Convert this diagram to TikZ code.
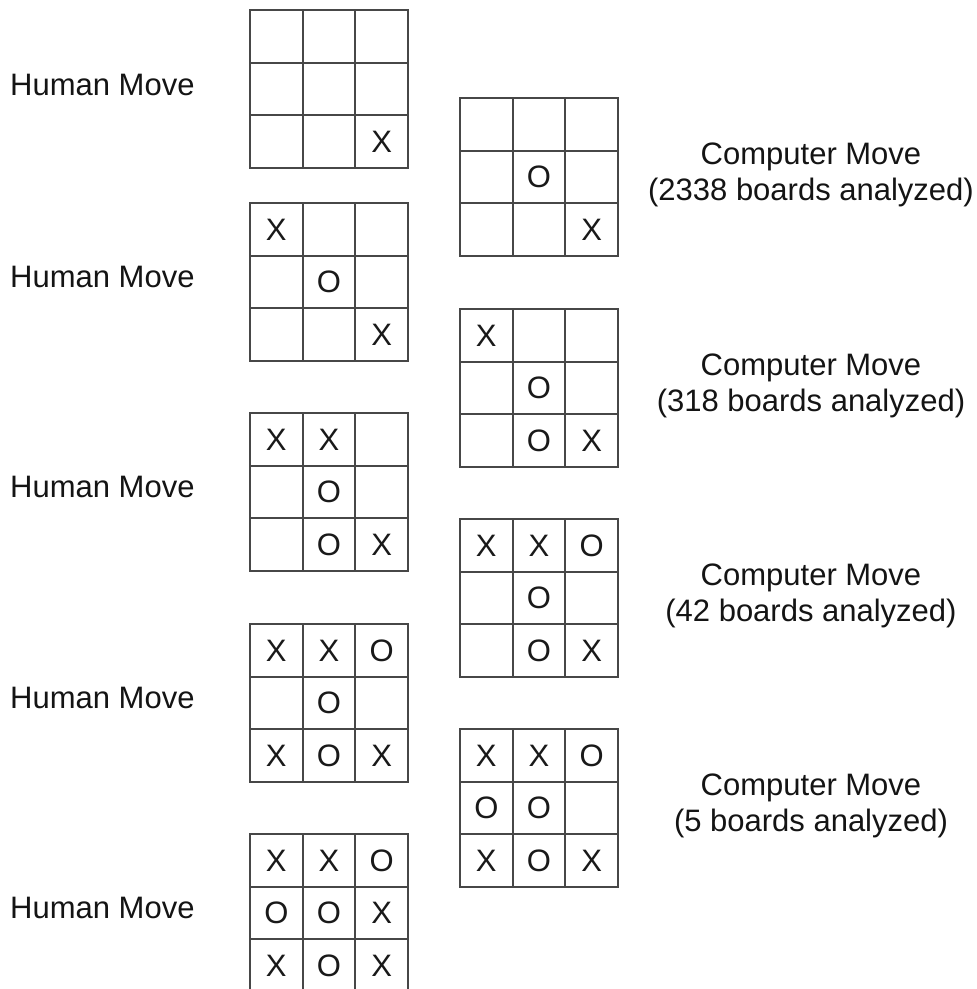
\documentclass[tikz,border=0pt]{standalone}
\usepackage{fontspec}
\setmainfont{Liberation Sans}
\usetikzlibrary{calc}
\tikzset{
  gridline/.style={draw=black!72, line width=1.8pt},
  cellmark/.style={inner sep=0pt, font=\fontsize{31}{33}\selectfont, text=black!90},
  humanlabel/.style={inner sep=0pt, anchor=base west, font=\fontsize{31}{36}\selectfont, text=black!92},
  complabel/.style={inner sep=0pt, anchor=center, align=center, font=\fontsize{31}{36}\selectfont, text=black!92},
}
% #1 name, #2 left x, #3 top y, #4 nine entries
\newcommand\tttboard[4]{%
  \coordinate (#1) at (#2+79,#3+79);
  \draw[gridline] (#2,#3) rectangle (#2+158,#3+158);
  \draw[gridline] (#2+52.67,#3) -- (#2+52.67,#3+158);
  \draw[gridline] (#2+105.33,#3) -- (#2+105.33,#3+158);
  \draw[gridline] (#2,#3+52.67) -- (#2+158,#3+52.67);
  \draw[gridline] (#2,#3+105.33) -- (#2+158,#3+105.33);
  \foreach \v [count=\k from 0] in {#4} {%
    \pgfmathsetmacro\cx{#2+52.67*(mod(\k,3)+0.5)}%
    \pgfmathsetmacro\cy{#3+52.67*(floor(\k/3)+0.5)}%
    \node[cellmark] (#1-\k) at (\cx,\cy) {\v};
  }%
}
\begin{document}
\begin{tikzpicture}[x=1pt,y=-1pt]
\useasboundingbox[fill=white] (0,0) rectangle (977,989);
\begin{scope}
\clip (0,0) rectangle (977,989);
% human boards (left)
\tttboard{h1}{250}{10}{,,,,,,,,X}
\tttboard{h2}{250}{203}{X,,,,O,,,,X}
\tttboard{h3}{250}{413}{X,X,,,O,,,O,X}
\tttboard{h4}{250}{624}{X,X,O,,O,,X,O,X}
\tttboard{h5}{250}{834}{X,X,O,O,O,X,X,O,X}
% computer boards (right)
\tttboard{c1}{460}{98}{,,,,O,,,,X}
\tttboard{c2}{460}{309}{X,,,,O,,,O,X}
\tttboard{c3}{460}{519}{X,X,O,,O,,,O,X}
\tttboard{c4}{460}{729}{X,X,O,O,O,,X,O,X}
\end{scope}
% labels
\node[humanlabel] (lh1) at (10,95) {Human Move};
\node[humanlabel] (lh2) at (10,287) {Human Move};
\node[humanlabel] (lh3) at (10,497) {Human Move};
\node[humanlabel] (lh4) at (10,708) {Human Move};
\node[humanlabel] (lh5) at (10,918) {Human Move};
\node[complabel] (lc1) at (811,175) {Computer Move\\(2338 boards analyzed)};
\node[complabel] (lc2) at (811,386) {Computer Move\\(318 boards analyzed)};
\node[complabel] (lc3) at (811,596) {Computer Move\\(42 boards analyzed)};
\node[complabel] (lc4) at (811,806) {Computer Move\\(5 boards analyzed)};
\end{tikzpicture}
\end{document}
